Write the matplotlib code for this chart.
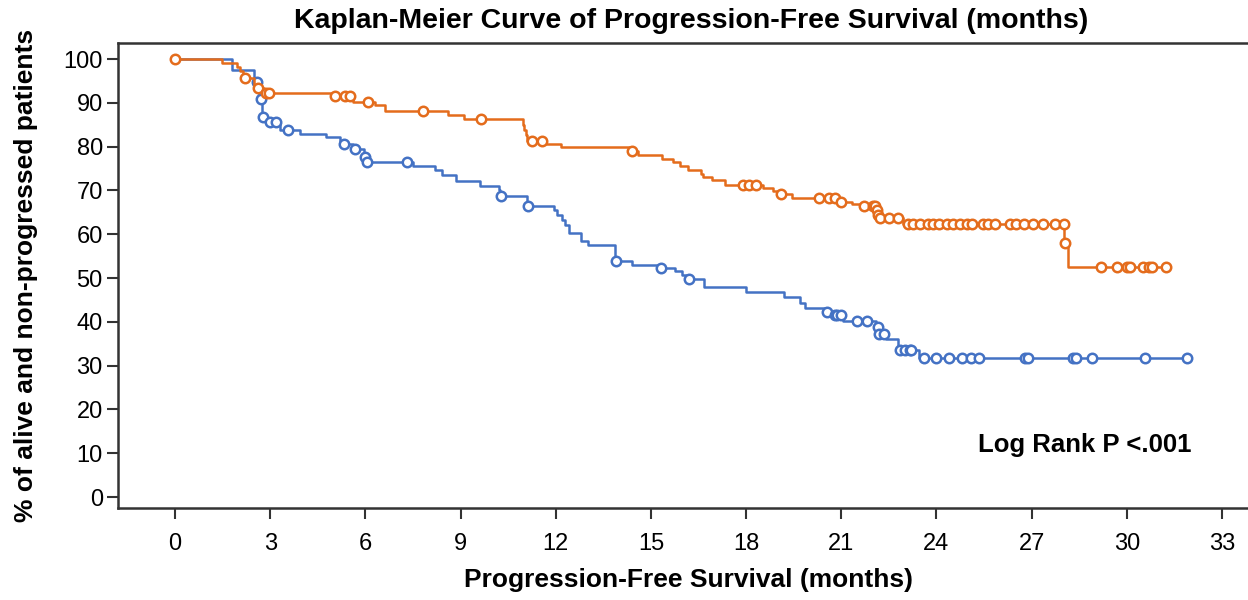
"""Kaplan-Meier curve of progression-free survival (two groups)."""

import numpy as np
from matplotlib import pyplot as plt

plt.rcParams["font.family"] = ["Liberation Sans", "DejaVu Sans"]

# Orange group: step times (months) and survival level (%) after each step
orange_step_times = [
    1.48, 1.95, 2.05, 2.15, 2.5, 2.8, 5.0, 5.6, 6.3, 6.6, 8.6, 9.1,
    10.95, 11.0, 11.05, 11.1, 11.69, 12.17, 14.35, 14.6, 15.35, 15.7,
    15.9, 16.17, 16.58, 16.65, 16.93, 17.33, 18.53, 18.85, 19.05, 19.45,
    20.95, 21.33, 21.65, 22.08, 22.14, 22.19, 22.95, 28.03, 28.15,
]
orange_step_levels = [
    99.0, 98.2, 97.3, 95.6, 93.3, 92.2, 91.6, 90.2, 89.6, 88.1, 87.3, 86.2,
    84.9, 83.8, 82.7, 81.2, 80.6, 79.8, 78.9, 78.0, 77.2, 76.6,
    75.6, 74.7, 73.7, 73.0, 72.4, 71.3, 70.5, 69.8, 69.2, 68.3,
    67.4, 66.9, 66.4, 65.5, 64.5, 63.6, 62.4, 58.0, 52.6,
]
orange_censored = [
    0.0, 2.2, 2.6, 2.85, 2.95, 5.04, 5.36, 5.5, 6.08, 7.8, 9.65, 11.25,
    11.57, 14.4, 17.9, 18.1, 18.3, 19.1, 20.3, 20.6, 20.8, 21.0, 21.7,
    22.0, 22.05, 22.12, 22.17, 22.22, 22.5, 22.8, 23.1, 23.26, 23.48,
    23.73, 23.89, 24.08, 24.33, 24.52, 24.74, 24.96, 25.12, 25.46, 25.62,
    25.84, 26.32, 26.5, 26.76, 27.04, 27.36, 27.73, 28.02, 28.05, 29.2,
    29.7, 30.0, 30.1, 30.5, 30.7, 30.8, 31.25,
]
orange_end = 31.25

# Blue group
blue_step_times = [
    1.8, 2.5, 2.65, 2.75, 2.9, 3.3, 3.95, 4.76, 5.2, 5.3, 5.6, 5.95, 6.02,
    7.5, 8.2, 8.4, 8.85, 9.6, 10.2, 10.25, 11.1, 11.95, 12.05, 12.2, 12.3,
    12.4, 12.8, 13.0, 13.85, 14.4, 15.25, 15.75, 15.98, 16.15, 16.67, 18.0,
    19.2, 19.7, 19.85, 20.5, 20.75, 21.05, 22.1, 22.18, 22.4, 22.8, 23.45,
]
blue_step_levels = [
    97.5, 94.7, 90.8, 86.7, 85.7, 83.8, 82.8, 82.1, 81.3, 80.5, 79.5, 77.7,
    76.4, 75.6, 74.7, 73.5, 72.2, 71.1, 70.1, 68.7, 66.4, 65.5, 64.4, 63.2,
    62.1, 60.2, 58.4, 57.5, 54.0, 53.0, 52.3, 51.7, 50.7, 49.8, 48.0, 46.7,
    45.7, 44.4, 43.1, 42.3, 41.5, 40.2, 38.9, 37.2, 36.0, 33.6, 31.8,
]
blue_censored = [
    2.58, 2.7, 2.77, 3.0, 3.18, 3.56, 5.33, 5.67, 6.0, 6.04, 7.3, 10.28,
    11.13, 13.9, 15.3, 16.2, 20.55, 20.8, 20.87, 21.0, 21.5, 21.8, 22.15,
    22.2, 22.35, 22.85, 23.0, 23.15, 23.2, 23.6, 24.0, 24.4, 24.8, 25.08,
    25.34, 26.8, 26.9, 28.3, 28.4, 28.9, 30.57, 31.9,
]
blue_end = 31.9

ORANGE = "#E46C1C"
BLUE = "#4472C4"


def draw_km(ax, step_times, step_levels, censored, end, color, zorder):
    times = np.array([0.0] + list(step_times) + [end])
    levels = np.array([100.0] + list(step_levels) + [step_levels[-1]])
    ax.step(times, levels, where="post", color=color, linewidth=1.8, zorder=zorder)
    idx = np.searchsorted(np.array(step_times), np.array(censored), side="right")
    cens_y = np.array([100.0] + list(step_levels))[idx]
    ax.plot(
        censored,
        cens_y,
        linestyle="none",
        marker="o",
        markersize=6.8,
        markerfacecolor="white",
        markeredgecolor=color,
        markeredgewidth=1.8,
        zorder=zorder + 1,
    )


fig = plt.figure(figsize=(12.48, 6), dpi=100)
ax = fig.add_axes([0.0946, 0.1533, 0.9054, 0.775])

draw_km(ax, blue_step_times, blue_step_levels, blue_censored, blue_end, BLUE, 2)
draw_km(ax, orange_step_times, orange_step_levels, orange_censored, orange_end, ORANGE, 4)

ax.set_xlim(-1.8, 33.82)
ax.set_ylim(-2.5, 103.65)
ax.set_xticks(range(0, 34, 3))
ax.set_yticks(range(0, 101, 10))
ax.tick_params(axis="both", direction="out", length=8, width=1.5, color="#333333",
               labelsize=17)
ax.tick_params(axis="x", pad=10)
ax.tick_params(axis="y", pad=3)

for side in ("left", "top", "bottom"):
    ax.spines[side].set_linewidth(1.8)
    ax.spines[side].set_color("#333333")
ax.spines["right"].set_visible(False)

fig.text(0.554, 0.965, "Kaplan-Meier Curve of Progression-Free Survival (months)",
         fontsize=20.5, fontweight="bold", ha="center", va="center")
ax.set_xlabel("Progression-Free Survival (months)", fontsize=19, fontweight="bold")
ax.xaxis.set_label_coords(0.505, -0.13)
ax.set_ylabel("% of alive and non-progressed patients", fontsize=19,
              fontweight="bold")
ax.yaxis.set_label_coords(-0.071, 0.5)
ax.text(32.05, 11.9, "Log Rank P <.001", fontsize=18.5, fontweight="bold",
        ha="right", va="center")

fig.savefig("out.png", dpi=100)
